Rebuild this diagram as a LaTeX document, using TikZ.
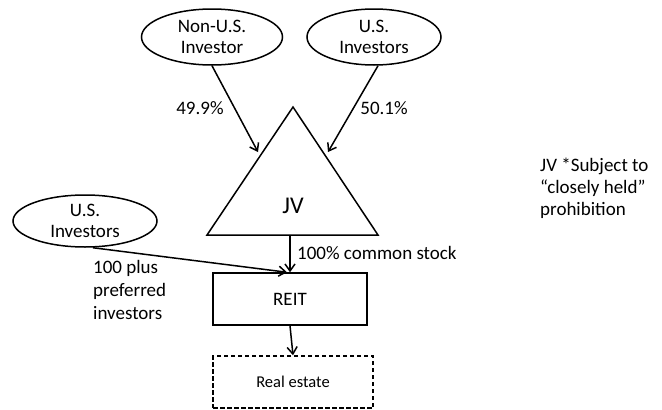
\documentclass[tikz,border=0pt]{standalone}
\usepackage{fontspec}
\setmainfont{Carlito}
\usetikzlibrary{arrows.meta}
\usetikzlibrary{shapes}
\usetikzlibrary{positioning}
\tikzset{
  MyOval/.style={
    ellipse, draw=black, line width=1.5pt,
    inner sep=0pt, align=center, font=\fontsize{19}{21}\selectfont,
  },
  MyBox/.style={
    rectangle, draw=black, line width=1.5pt,
    minimum width=154pt, minimum height=52pt,
  },
  MyText/.style={
    font=\fontsize{19}{23}\selectfont, align=left, inner sep=0pt,
  },
  MyArrow/.style={
    -{Straight Barb[length=7pt,width=10pt]}, line width=1.5pt,
  },
}

\begin{document}
\begin{tikzpicture}[x=1pt, y=-1pt]
\useasboundingbox (0,0) rectangle (662,410);
\node[MyOval, minimum width=141pt, minimum height=56pt] (NUS) at (212,37) {Non-U.S.\\Investor};
\node[MyOval, minimum width=134pt, minimum height=56pt] (US) at (374,37) {U.S.\\Investors};
\node[MyOval, minimum width=144pt, minimum height=52pt] (USP) at (85,221) {U.S.\\Investors};
% triangle for the JV
\coordinate (JVtop) at (293,107);
\coordinate (JVleft) at (207,235);
\coordinate (JVright) at (378,235);
\draw[line width=1.5pt, line join=miter] (JVtop) -- (JVleft) -- (JVright) -- cycle;
\node[font=\fontsize{24}{28}\selectfont] (JV) at (293,206) {JV};
\coordinate (JVinL) at (258,152);
\coordinate (JVinR) at (328,152);
\coordinate (JVbase) at (290,235);
\node[MyBox, font=\fontsize{19}{23}\selectfont] (REIT) at (290,299) {REIT};
\node[MyBox, minimum width=160pt, minimum height=52pt, dash pattern=on 4.5pt off 2.5pt, font=\fontsize{16.5}{20}\selectfont] (RE) at (293,382) {Real estate};
\draw[MyArrow] (NUS.south) -- (JVinL);
\draw[MyArrow] (US.south) ++(4,0) -- (JVinR);
\draw[MyArrow] (JVbase) -- (REIT.north);
\draw[MyArrow] (USP.south) ++(8,0) -- ([xshift=-3pt]REIT.north);
\draw[MyArrow] (REIT.south) -- (RE.north);
\node[MyText] (L1) at (200,108) {49.9\%};
\node[MyText] (L2) at (384,108) {50.1\%};
\node[MyText, anchor=west] (L3) at (297,253) {100\% common stock};
\node[MyText, anchor=north west] (L4) at (93,260) {100 plus\\preferred\\investors};
\node[MyText, anchor=north west, font=\fontsize{19}{22}\selectfont] (NOTE) at (540,158) {JV *Subject to\\``closely held''\\prohibition};
\end{tikzpicture}
\end{document}
